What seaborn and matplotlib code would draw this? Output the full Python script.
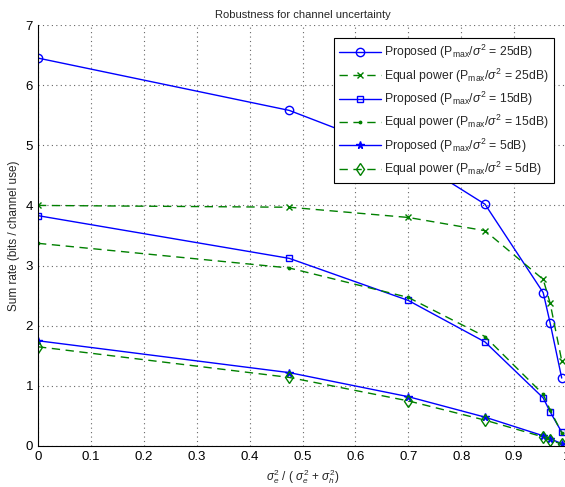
import numpy as np
import pandas as pd
import matplotlib
matplotlib.use('Agg')
import matplotlib.pyplot as plt
import seaborn as sns

# x positions (error variance ratio)
ratio = [0.0, 0.475, 0.70, 0.845, 0.955, 0.968, 0.99]

prop_25 = [6.45, 5.58, 4.82, 4.02, 2.55, 2.05, 1.13]
eq_25 = [4.00, 3.97, 3.80, 3.58, 2.77, 2.38, 1.42]
prop_15 = [3.83, 3.12, 2.42, 1.73, 0.80, 0.57, 0.23]
eq_15 = [3.37, 2.96, 2.47, 1.82, 0.86, 0.60, 0.22]
prop_5 = [1.75, 1.22, 0.82, 0.48, 0.17, 0.12, 0.04]
eq_5 = [1.65, 1.14, 0.75, 0.43, 0.15, 0.10, 0.03]

labels = [r'Proposed (P$_{\mathrm{max}}$/$\sigma^2$ = 25dB)',
          r'Equal power (P$_{\mathrm{max}}$/$\sigma^2$ = 25dB)',
          r'Proposed (P$_{\mathrm{max}}$/$\sigma^2$ = 15dB)',
          r'Equal power (P$_{\mathrm{max}}$/$\sigma^2$ = 15dB)',
          r'Proposed (P$_{\mathrm{max}}$/$\sigma^2$ = 5dB)',
          r'Equal power (P$_{\mathrm{max}}$/$\sigma^2$ = 5dB)']

sns.set_style('white')
plt.rcParams['font.family'] = ['Liberation Sans', 'DejaVu Sans']
plt.rcParams['mathtext.fontset'] = 'custom'
plt.rcParams['mathtext.rm'] = 'Liberation Sans'
plt.rcParams['mathtext.it'] = 'Liberation Sans:italic'

fig = plt.figure(figsize=(5.65, 4.87), dpi=100)
ax = fig.add_axes([38/565, 41/487, 529/565, 421/487])

blue = '#0000ff'
green = '#008000'
series = [
    (prop_25, blue, '-', 'o', 6),
    (eq_25, green, '--', 'x', 4.5),
    (prop_15, blue, '-', 's', 5),
    (eq_15, green, '--', '.', 3.5),
    (prop_5, blue, '-', '*', 5.5),
    (eq_5, green, '--', 'd', 6),
]
for (vals, c, ls, mk, ms), lab in zip(series, labels):
    sns.lineplot(x=ratio, y=vals, ax=ax, color=c, linestyle=ls, marker=mk,
                 markersize=ms, markerfacecolor='none' if mk in 'osd' else c,
                 markeredgecolor=c, markeredgewidth=1.0, linewidth=1.0,
                 label=lab)

for line in ax.get_lines():
    if line.get_linestyle() == '--':
        line.set_dashes((6, 4))

ax.set_xlim(0, 1)
ax.set_ylim(0, 7)
ax.set_xticks(np.arange(0, 1.01, 0.1))
ax.set_xticklabels(['0', '0.1', '0.2', '0.3', '0.4', '0.5', '0.6', '0.7', '0.8', '0.9', '1'])
ax.set_yticks(range(0, 8))
ax.grid(True, linestyle=(0, (1, 3)), color='#666666', linewidth=0.8)
ax.tick_params(direction='in', length=4, labelsize=9.5, colors='black', width=0.8)
for s in ['top', 'right']:
    ax.spines[s].set_visible(False)
for s in ['left', 'bottom']:
    ax.spines[s].set_color('black')
    ax.spines[s].set_linewidth(0.8)

ax.set_title('Robustness for channel uncertainty', fontsize=8, pad=5)
ax.set_xlabel(r'$\sigma_e^2$ / ( $\sigma_e^2$ + $\sigma_h^2$)', fontsize=8.5, labelpad=3)
ax.set_ylabel('Sum rate (bits / channel use)', fontsize=8.5, labelpad=4)

leg = ax.legend(loc='upper right', bbox_to_anchor=(0.987, 0.983), fontsize=8.8,
                frameon=True, fancybox=False, edgecolor='black', framealpha=1,
                handlelength=3.4, labelspacing=0.42, borderpad=0.4, handletextpad=0.3)
leg.get_frame().set_linewidth(0.8)

fig.savefig('out.png', dpi=100)
